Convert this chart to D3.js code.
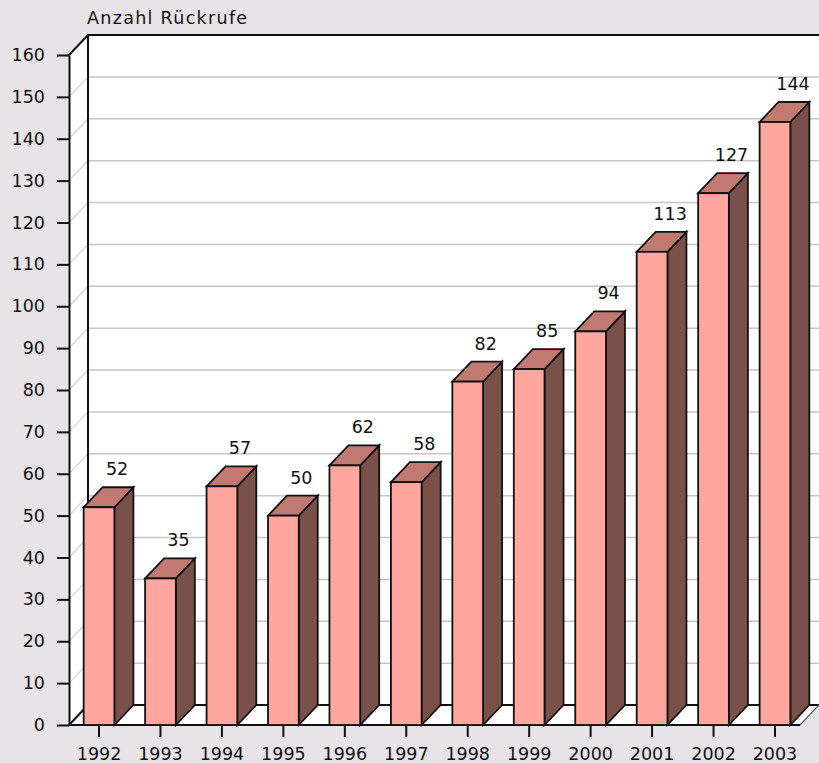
<!DOCTYPE html>
<html>
<head>
<meta charset="utf-8">
<script src="https://cdn.jsdelivr.net/npm/d3@7"></script>
<style>
  body { margin: 0; background: #e7e3e7; }
  text { font-family: "DejaVu Sans", sans-serif; fill: #111; }
</style>
</head>
<body>
<div id="chart"></div>
<script>
(function(){
    const years = ["1992", "1993", "1994", "1995", "1996", "1997", "1998", "1999", "2000", "2001", "2002", "2003"];
    const values = [52, 35, 57, 50, 62, 58, 82, 85, 94, 113, 127, 144];
    const yTicks = [0, 10, 20, 30, 40, 50, 60, 70, 80, 90, 100, 110, 120, 130, 140, 150, 160];
    const yTitle = "Anzahl Rückrufe";

    const width = 819, height = 763;
    // depth of the 3d effect
    const dx = 19, dy = -20;

    const svg = d3.select("#chart").append("svg")
        .attr("width", width)
        .attr("height", height);

    const y = d3.scaleLinear().domain([0, 160]).range([725, 55]);
    const x = d3.scaleBand().domain(years).range([68.3, 805.7])
        .paddingInner(0.5).paddingOuter(0.25);

    const x0 = 69, xEnd = 800, y0 = y(0), yTop = y(160);

    // back wall, left wall and floor
    svg.append("rect")
        .attr("x", x0 + dx).attr("y", yTop + dy)
        .attr("width", width - x0 - dx + 5).attr("height", y0 - yTop)
        .attr("fill", "#fff");
    svg.append("path")
        .attr("d", `M${x0},${yTop}L${x0 + dx},${yTop + dy}L${x0 + dx},${y0 + dy}L${x0},${y0}Z`)
        .attr("fill", "#fff");
    svg.append("path")
        .attr("d", `M${x0},${y0}L${x0 + dx},${y0 + dy}L${width + 5},${y0 + dy}L${xEnd + dx},${y0 + dy}L${xEnd},${y0}Z`)
        .attr("fill", "#fff");

    // grid lines
    const grid = yTicks.filter(d => d > 0 && d < 160);
    svg.selectAll(".gridBack").data(grid).enter().append("line")
        .attr("x1", x0 + dx).attr("x2", width)
        .attr("y1", d => y(d) + dy).attr("y2", d => y(d) + dy)
        .attr("stroke", "#c6c6c6").attr("stroke-width", 1.5);
    svg.selectAll(".gridSide").data(grid).enter().append("line")
        .attr("x1", x0).attr("x2", x0 + dx)
        .attr("y1", d => y(d)).attr("y2", d => y(d) + dy)
        .attr("stroke", "#d2d2d2").attr("stroke-width", 1.2);

    // frame lines
    const frame = svg.append("g").attr("stroke", "#111").attr("fill", "none").attr("stroke-width", 2);
    frame.append("path").attr("d", `M${x0},${yTop}L${x0 + dx},${yTop + dy}L${width + 5},${yTop + dy}`);
    frame.append("path").attr("d", `M${x0 + dx},${yTop + dy}L${x0 + dx},${y0 + dy}L${width + 5},${y0 + dy}`);
    frame.append("path").attr("d", `M${x0},${y0}L${x0 + dx},${y0 + dy}`);
    frame.append("path").attr("d", `M${x0},${y0}L${xEnd},${y0}`);
    frame.append("path").attr("d", `M${xEnd},${y0}L${xEnd + dx},${y0 + dy}`).attr("stroke", "#555").attr("stroke-width", 1.2);

    // bars
    const bars = svg.selectAll(".bar").data(values).enter().append("g").attr("class", "bar");
    const bw = x.bandwidth();
    bars.append("path")
        .attr("d", (d, i) => {
            const l = x(years[i]) + bw, t = y(d);
            return `M${l},${t}L${l + dx},${t + dy}L${l + dx},${y0 + dy}L${l},${y0}Z`;
        })
        .attr("fill", "#7a514a").attr("stroke", "#111").attr("stroke-width", 1.8);
    bars.append("path")
        .attr("d", (d, i) => {
            const l = x(years[i]), t = y(d);
            return `M${l},${t}L${l + dx},${t + dy}L${l + bw + dx},${t + dy}L${l + bw},${t}Z`;
        })
        .attr("fill", "#c07a72").attr("stroke", "#111").attr("stroke-width", 1.8);
    bars.append("rect")
        .attr("x", (d, i) => x(years[i]))
        .attr("y", d => y(d))
        .attr("width", bw)
        .attr("height", d => y0 - y(d))
        .attr("fill", "#ffa69e").attr("stroke", "#111").attr("stroke-width", 1.8);

    // value labels
    bars.append("text")
        .attr("x", (d, i) => x(years[i]) + bw / 2 + 18)
        .attr("y", d => y(d) + dy - 12)
        .attr("text-anchor", "middle")
        .style("font-size", "17.5px")
        .text(d => d);

    // axes
    const yAxis = svg.append("g")
        .attr("transform", `translate(${x0},0)`)
        .call(d3.axisLeft(y).tickValues(yTicks).tickSize(12).tickSizeOuter(0).tickPadding(12));
    yAxis.selectAll("line, path").attr("stroke", "#111").attr("stroke-width", 2);
    yAxis.selectAll("text").style("font-size", "17.5px").attr("fill", "#111");

    const xAxis = svg.append("g")
        .attr("transform", `translate(0,${y0})`)
        .call(d3.axisBottom(x).tickSize(12).tickSizeOuter(0).tickPadding(10.5));
    xAxis.select(".domain").remove();
    xAxis.selectAll("line").attr("stroke", "#111").attr("stroke-width", 2);
    xAxis.selectAll("text").style("font-size", "17.5px").attr("fill", "#111");

    svg.append("text")
        .attr("x", 87).attr("y", 24)
        .style("font-size", "17.5px")
        .style("letter-spacing", "1.3px")
        .text(yTitle);
})();
</script>
</body>
</html>
